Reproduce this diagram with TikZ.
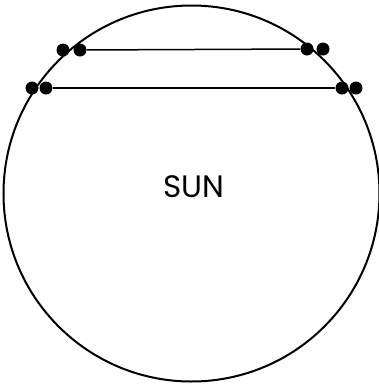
\documentclass[tikz,border=0pt]{standalone}
\usepackage{fontspec}
\newfontfamily\sunfont{Poppins}
\usepackage{tikz}
\usetikzlibrary{positioning}

\begin{document}
\begin{tikzpicture}[x=1pt,y=-1pt,
  spot/.style={circle,fill=black,inner sep=0pt,minimum size=13pt}]
\useasboundingbox (0,0) rectangle (379,384);

\draw[line width=2pt] (191.5,193.5) circle (188);

% upper chord
\node[spot] (a1) at (63,50) {};
\node[spot] (a2) at (80,50) {};
\node[spot] (a3) at (307,49) {};
\node[spot] (a4) at (323,49) {};
% lower chord
\node[spot] (b1) at (32,88) {};
\node[spot] (b2) at (46,88) {};
\node[spot] (b3) at (342,88) {};
\node[spot] (b4) at (356,88) {};

\draw[line width=1.5pt] (a2)--(a3);
\draw[line width=1.5pt] (b2)--(b3);

\node (sun) at (194,187) {\fontsize{31}{36}\selectfont\sunfont SUN};
\end{tikzpicture}
\end{document}
